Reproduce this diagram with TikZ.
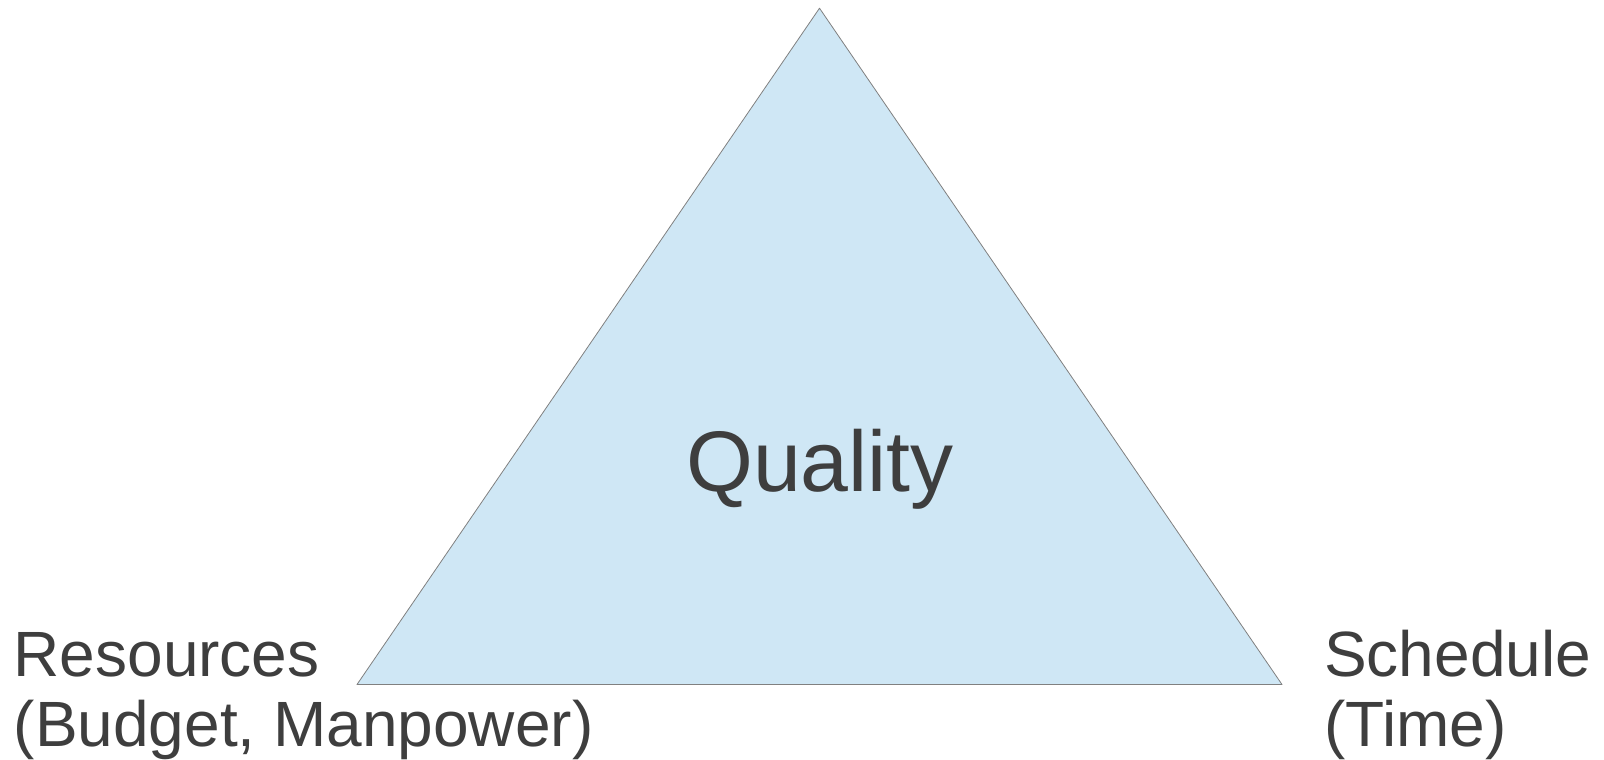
\documentclass[tikz,border=0pt]{standalone}
\usepackage{fontspec}
\setmainfont{Liberation Sans}
\definecolor{trifill}{RGB}{207,231,245}
\definecolor{triedge}{RGB}{128,128,128}
\definecolor{txtgray}{RGB}{62,62,62}
\tikzset{
  corner/.style={inner sep=0pt, text=txtgray, align=left, anchor=base west,
    font=\fontsize{64}{70}\selectfont},
  middle/.style={inner sep=0pt, text=txtgray, anchor=base,
    font=\fontsize{86}{99}\selectfont}
}
\begin{document}
\begin{tikzpicture}[x=1pt,y=-1pt]
\useasboundingbox (0,0) rectangle (1604,760);

\coordinate (top) at (819.5,8.2);
\coordinate (left) at (357,684.5);
\coordinate (right) at (1282,684.5);
\draw [fill=trifill, draw=triedge, line width=0.8pt, line join=round] (top) -- (left) -- (right) -- cycle;

\node [middle] (quality) at (820,491) {Quality};
\node [corner] (res) at (13.5,746) {Resources\\(Budget, Manpower)};
\node [corner] (sched) at (1324,746) {Schedule\\(Time)};
\end{tikzpicture}
\end{document}
